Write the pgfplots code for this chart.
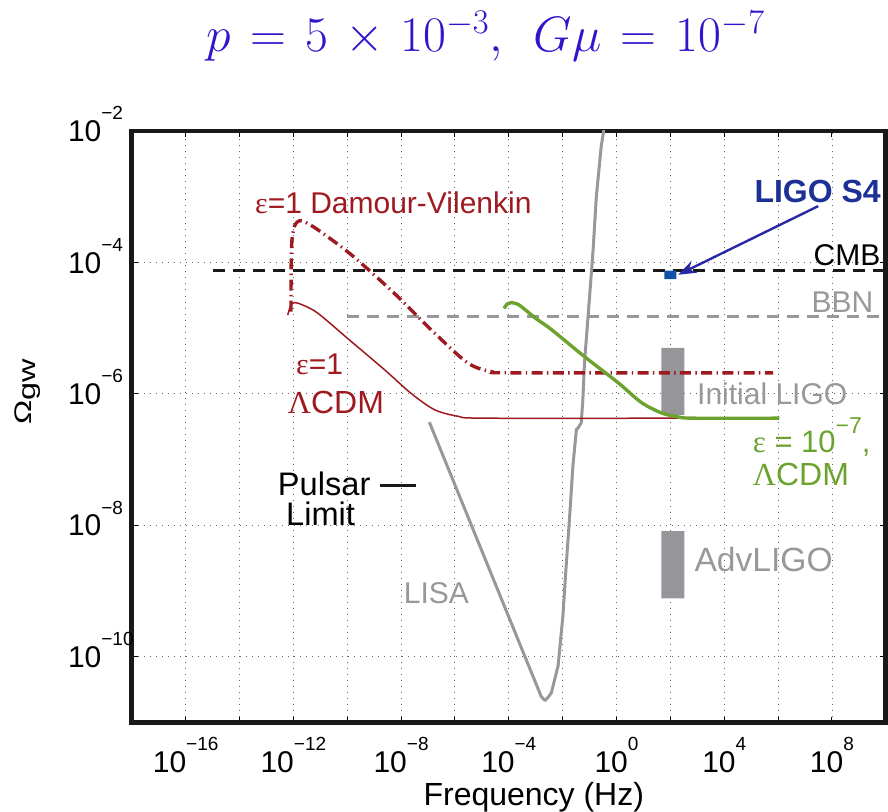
\documentclass[border=0pt]{standalone}
\usepackage{fontspec}
\setmainfont{Liberation Sans}
\newfontfamily\grk{Liberation Serif}
\usepackage{pgfplots}
\pgfplotsset{compat=1.18}
\usetikzlibrary{arrows.meta}

\definecolor{dvred}{RGB}{158,26,32}
\definecolor{cdmgreen}{RGB}{107,163,46}
\definecolor{midgray}{RGB}{152,152,156}
\definecolor{bargray}{RGB}{150,150,154}
\definecolor{snavy}{RGB}{28,48,150}
\definecolor{arrowblue}{RGB}{40,40,165}
\definecolor{sqblue}{RGB}{16,82,170}
\definecolor{titleblue}{RGB}{50,20,205}

% tick labels: 10 with a raised exponent
\newcommand{\xtl}[1]{10\raisebox{0.72em}{\fontsize{9.5}{9.5}\selectfont#1}}
\newcommand{\ytl}[1]{10\rlap{\raisebox{0.72em}{\fontsize{9.5}{9.5}\selectfont#1}}}
\newcommand{\txt}{\fontsize{15}{15}\selectfont}

\begin{document}
\begin{tikzpicture}
\begin{axis}[
  at={(0,0)}, anchor=south west,
  scale only axis, width=377pt, height=295.75pt,
  xmode=log, ymode=log,
  xmin=1e-18, xmax=1e10, ymin=1e-11, ymax=1e-2,
  xtick={1e-18,1e-16,1e-14,1e-12,1e-10,1e-8,1e-6,1e-4,1e-2,1,1e2,1e4,1e6,1e8,1e10},
  xticklabels={{},\xtl{−16},{},\xtl{−12},{},\xtl{−8},{},\xtl{−4},{},\xtl{0},{},\xtl{4},{},\xtl{8},{}},
  ytick={1e-10,1e-8,1e-6,1e-4,1e-2},
  yticklabels={\ytl{−10},\ytl{−8},\ytl{−6},\ytl{−4},\ytl{−2}},
  xminorticks=false, yminorticks=false,
  grid=major,
  major grid style={black!60, line width=0.45pt, dash pattern=on 0.5pt off 2.5pt},
  tick align=inside, major tick length=3pt,
  tick style={black, line width=0.5pt},
  axis line style={line width=2.35pt, black!90},
  tick label style={font=\fontsize{15}{15}\selectfont},
  xticklabel style={anchor=base, inner sep=0pt, yshift=-25pt},
  yticklabel style={anchor=base east, inner sep=0pt, xshift=-15pt, yshift=-5.3pt},
]
% detector sensitivity bands
\addplot[fill=bargray, draw=none] coordinates {(46.8,4.79e-7) (331,4.79e-7) (331,5.01e-6) (46.8,5.01e-6) (46.8,4.79e-7)};
\addplot[fill=bargray, draw=none] coordinates {(46.8,7.76e-10) (331,7.76e-10) (331,8.13e-9) (46.8,8.13e-9) (46.8,7.76e-10)};

% CMB and BBN bounds
\addplot[black!90, line width=1.5pt, dash pattern=on 6pt off 4pt] coordinates {(1e-15,7.5e-5) (1e10,7.5e-5)};
\addplot[midgray, line width=1.5pt, dash pattern=on 6pt off 4pt] coordinates {(1e-10,1.5e-5) (1e10,1.5e-5)};

% LISA sensitivity
\addplot[midgray, line width=1.5pt] coordinates {
 (1.12e-7,3.72e-7) (1.585e-3,2.51e-11) (2.00e-3,2.24e-11) (2.29e-3,2.19e-11)
 (2.82e-3,2.40e-11) (3.80e-3,2.82e-11) (6.76e-3,7.24e-11) (1.02e-2,4.17e-10)
 (1.35e-2,2.40e-9) (1.82e-2,1.38e-8) (2.40e-2,7.94e-8) (3.24e-2,2.88e-7)
 (3.72e-2,3.02e-7) (4.90e-2,3.63e-7) (5.62e-2,8.13e-7) (6.46e-2,2.95e-6)
 (0.1,3.02e-5) (0.135,1.55e-4) (0.178,1e-3) (0.269,5.75e-3) (0.363,1.26e-2)};

% epsilon = 1, Lambda CDM
\addplot[dvred, line width=0.75pt, smooth, tension=0.5] coordinates {
 (6.17e-13,1.585e-5) (7.94e-13,2.19e-5) (1.07e-12,2.45e-5) (2.00e-12,2.29e-5)
 (7.94e-12,1.70e-5) (1.38e-10,6.31e-6) (2.40e-9,2.34e-6) (2.34e-8,1.02e-6)
 (1.74e-7,5.75e-7) (1.29e-6,4.57e-7) (1.26e-5,4.27e-7) (200,4.27e-7)};

% epsilon = 1, Damour-Vilenkin
\addplot[dvred, line width=1.7pt, smooth, tension=0.5, dash pattern=on 5.5pt off 2.2pt on 0.7pt off 2.2pt] coordinates {
 (8.13e-13,1.78e-5) (8.32e-13,1e-4) (8.91e-13,2.24e-4) (1.12e-12,3.63e-4)
 (1.585e-12,4.27e-4) (2.51e-12,4.17e-4) (7.94e-12,3.16e-4) (1.38e-10,1.32e-4)
 (5.62e-9,3.39e-5) (1.70e-7,8.51e-6) (3.02e-6,2.95e-6) (2.24e-5,2.19e-6)
 (2.19e-4,2.09e-6) (6.61e5,2.09e-6)};

% epsilon = 1e-7, Lambda CDM
\addplot[cdmgreen, line width=1.7pt, smooth, tension=0.5] coordinates {
 (6.61e-5,2.00e-5) (8.91e-5,2.34e-5) (1.23e-4,2.45e-5) (2.00e-4,2.34e-5)
 (2.88e-4,2.14e-5) (1e-3,1.41e-5) (3.80e-3,9.55e-6) (6.31e-2,3.72e-6)
 (1.148,1.48e-6) (8.32,7.41e-7) (46.8,5.13e-7) (195,4.47e-7)
 (724,4.27e-7) (1.12e6,4.27e-7)};

% pulsar timing limit
\addplot[black!90, line width=1.5pt] coordinates {(1.66e-9,3.98e-8) (3.63e-8,3.98e-8)};

% LIGO S4 upper limit
\addplot[fill=sqblue, draw=none] coordinates {(60.3,5.57e-5) (166,5.57e-5) (166,7.53e-5) (60.3,7.53e-5) (60.3,5.57e-5)};
\draw[arrowblue, line width=1.2pt, -{Stealth[length=9pt,width=6.5pt]}] (axis cs:3.1e7,7.2e-4) -- (axis cs:195,6.5e-5);
\end{axis}

% annotations (canvas units: 1pt = 2 image px, origin at lower-left of the axis)
\node[anchor=base, text=titleblue, inner sep=0pt] at (177.1pt,335.25pt)
  {\fontsize{25.5}{28}\selectfont\thickmuskip=7mu\medmuskip=6mu
   $p = 5\times 10^{-3},\mkern8mu G\mu = 10^{-7}$};
\node[anchor=base, inner sep=0pt] at (201pt,-41.5pt) {\fontsize{16}{16}\selectfont Frequency (Hz)};
\node[rotate=90, inner sep=0pt] at (-52pt,165.5pt)
  {\scalebox{1.35}[1]{\fontsize{12}{12}\selectfont Ω\raisebox{-2pt}{gw}}};

\node[anchor=base west, inner sep=0pt, text=dvred] at (61.5pt,254.35pt) {\txt{\grk ε}=1 Damour-Vilenkin};
\node[anchor=base west, inner sep=0pt, text=dvred] at (82pt,174pt) {\txt{\grk ε}=1};
\node[anchor=base west, inner sep=0pt, text=dvred] at (77.85pt,154.5pt) {\fontsize{16}{16}\selectfont{\grk Λ}CDM};
\node[anchor=base east, inner sep=0pt] at (119.5pt,113.5pt) {\fontsize{16.3}{16}\selectfont Pulsar};
\node[anchor=base west, inner sep=0pt] at (77pt,98.5pt) {\fontsize{16.3}{16}\selectfont Limit};
\node[anchor=base west, inner sep=0pt, text=midgray] at (135.85pt,59.65pt) {\txt LISA};
\node[anchor=base west, inner sep=0pt, text=snavy] at (311.15pt,260.15pt) {\fontsize{16}{16}\selectfont\bfseries LIGO S4};
\node[anchor=base east, inner sep=0pt] at (374.5pt,228.5pt) {\txt CMB};
\node[anchor=base east, inner sep=0pt, text=midgray] at (371pt,205.15pt) {\txt BBN};
\node[anchor=base west, inner sep=0pt, text=midgray] at (282.5pt,159pt) {\txt Initial LIGO};
\node[anchor=base west, inner sep=0pt, text=midgray] at (281.15pt,75.65pt) {\fontsize{16.8}{16}\selectfont AdvLIGO};
\node[anchor=base west, inner sep=0pt, text=cdmgreen] at (310.35pt,135.15pt)
  {\fontsize{15.5}{15}\selectfont{\grk ε} = 10\raisebox{9.3pt}{\fontsize{11.5}{11.5}\selectfont −7},};
\node[anchor=base west, inner sep=0pt, text=cdmgreen] at (310.35pt,118.5pt) {\fontsize{16}{16}\selectfont{\grk Λ}CDM};

\pgfresetboundingbox
\path[use as bounding box] (-65.9pt,-44.75pt) rectangle (378.1pt,361.25pt);
\end{tikzpicture}
\end{document}
